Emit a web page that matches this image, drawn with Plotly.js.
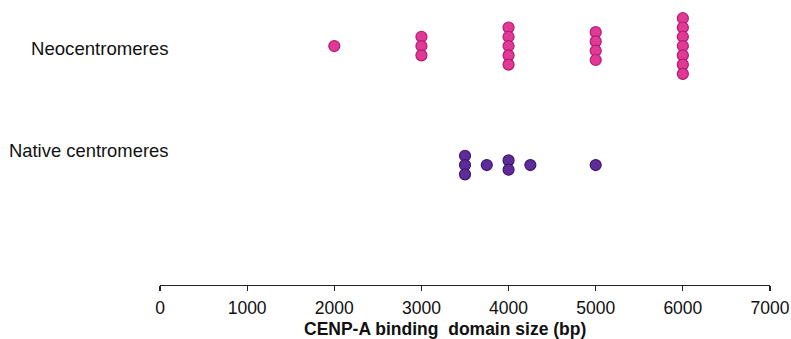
<!DOCTYPE html>
<html><head><meta charset="utf-8">
<script src="https://cdn.plot.ly/plotly-3.0.1.min.js"></script>
<style>html,body{margin:0;padding:0;background:#fff}#c{width:791px;height:339px}</style>
</head><body><div id="c"></div>
<script>
const categories = ["Neocentromeres", "Native centromeres"];
const neoValues = [2000, 3000, 3000, 3000, 4000, 4000, 4000, 4000, 4000, 5000, 5000, 5000, 5000, 6000, 6000, 6000, 6000, 6000, 6000, 6000];
const nativeValues = [3500, 3500, 3500, 3750, 4000, 4000, 4250, 5000];
const tickVals = [0, 1000, 2000, 3000, 4000, 5000, 6000, 7000];
const tickText = ["0", "1000", "2000", "3000", "4000", "5000", "6000", "7000"];
const xTitle = "CENP-A binding\u00a0 domain size (bp)";

const catPos = [1, 0];
const step = 0.078;
function swarm(vals, base) {
  const counts = {}; vals.forEach(v => counts[v] = (counts[v] || 0) + 1);
  const seen = {};
  return vals.map(v => {
    const n = counts[v]; const i = seen[v] || 0; seen[v] = i + 1;
    return base + ((n - 1) / 2 - i) * step;
  });
}
const traces = [
  {x: neoValues, y: swarm(neoValues, catPos[0]), type: 'scatter', mode: 'markers', name: categories[0],
   marker: {size: 11, color: 'rgb(226,56,150)', line: {color: 'rgb(178,28,112)', width: 1.2}}},
  {x: nativeValues, y: swarm(nativeValues, catPos[1]), type: 'scatter', mode: 'markers', name: categories[1],
   marker: {size: 11, color: 'rgb(94,44,152)', line: {color: 'rgb(62,22,112)', width: 1.2}}}
];
const layout = {
  width: 791, height: 339,
  margin: {l: 160, r: 21, t: 5, b: 54},
  paper_bgcolor: '#fff', plot_bgcolor: '#fff',
  showlegend: false,
  font: {family: 'Liberation Sans, Arial, sans-serif', color: '#111'},
  xaxis: {range: [0, 7000], tickvals: tickVals, ticktext: tickText, showgrid: false, zeroline: false,
    showline: true, linecolor: '#222', linewidth: 1.2, ticks: 'outside', ticklen: 5, tickcolor: '#222', tickwidth: 1.2,
    tickfont: {size: 17.5, color: '#111'}, ticklabelstandoff: 2},
  yaxis: {range: [-1.008, 1.345], visible: false, fixedrange: true},
  annotations: [
    {text: categories[0], xref: 'paper', yref: 'y', x: 0.0164, y: 0.983, xanchor: 'right', yanchor: 'middle', showarrow: false, font: {size: 18.6, color: '#111'}},
    {text: categories[1], xref: 'paper', yref: 'y', x: 0.0164, y: 0.126, xanchor: 'right', yanchor: 'middle', showarrow: false, font: {size: 18.4, color: '#111'}},
    {text: '<b>' + xTitle + '</b>', xref: 'paper', yref: 'paper', x: 0.467, y: -0.157, xanchor: 'center', yanchor: 'middle', showarrow: false, font: {size: 17.5, color: '#111'}}
  ]
};
Plotly.newPlot('c', traces, layout, {displayModeBar: false, staticPlot: true});
</script></body></html>
